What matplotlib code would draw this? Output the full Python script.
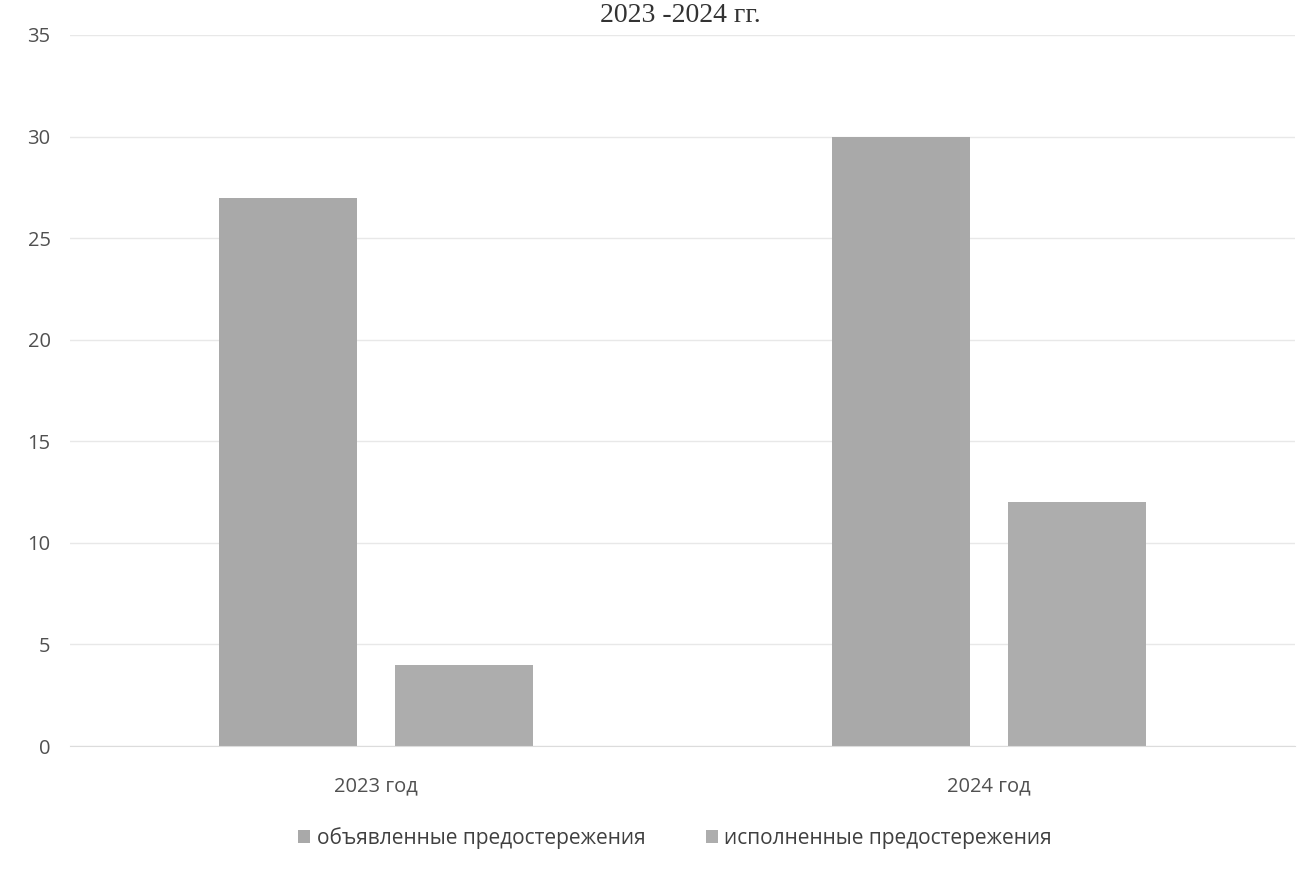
import matplotlib
matplotlib.use("Agg")
import matplotlib.pyplot as plt
import numpy as np

categories = ["2023 год", "2024 год"]
series_names = ["объявленные предостережения", "исполненные предостережения"]
announced = [27, 30]
fulfilled = [4, 12]
yticks = [0, 5, 10, 15, 20, 25, 30, 35]
title = "2023 -2024 гг."

plt.rcParams['font.family'] = ['Open Sans', 'DejaVu Sans']

fig = plt.figure(figsize=(13.16, 8.73), dpi=100)
W, H = 1316, 873
ax = fig.add_axes([70 / W, 1 - 746 / H, (1295 - 70) / W, (746 - 35) / H])

x = np.arange(len(categories))
bw = 0.225
gap = 0.062
colors = ["#a9a9a9", "#adadad"]
ax.bar(x - (bw + gap) / 2, announced, width=bw, color=colors[0], label=series_names[0], zorder=2)
ax.bar(x + (bw + gap) / 2, fulfilled, width=bw, color=colors[1], label=series_names[1], zorder=2)

ax.set_xlim(-0.5, 1.5)
ax.set_ylim(0, 35)
ax.set_yticks(yticks)
ax.set_yticklabels([str(v) for v in yticks], fontsize=14.5, color="#505050")
ax.set_xticks(x)
ax.set_xticklabels(categories, fontsize=14.5, color="#505050")
ax.tick_params(axis='x', length=0, pad=22)
ax.tick_params(axis='y', length=0, pad=14)
ax.grid(axis='y', color="#e8e8e8", linewidth=1, zorder=0)
for s in ax.spines.values():
    s.set_visible(False)
ax.spines['bottom'].set_visible(True)
ax.spines['bottom'].set_color("#dcdcdc")

fig.legend(loc='center', bbox_to_anchor=(675 / W, 1 - 838 / H), ncol=2, frameon=False,
           fontsize=15, handlelength=0.6, handleheight=0.6, handletextpad=0.3,
           columnspacing=2.9, labelcolor="#404040")

fig.text(680 / W, 1 - 16 / H, title, ha='center', va='center', fontsize=20,
         family=['Liberation Serif', 'DejaVu Serif'], color="#333333")

fig.savefig("out.png", dpi=100, facecolor="white")
